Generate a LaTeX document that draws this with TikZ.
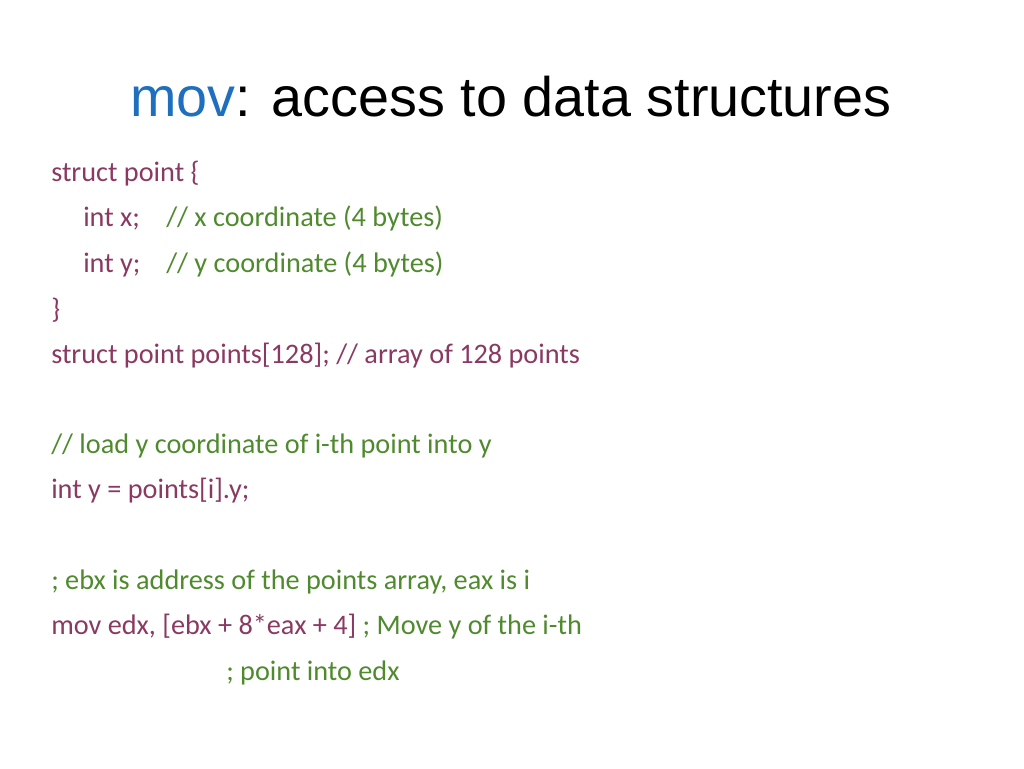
\documentclass[tikz,border=0pt]{standalone}
\usepackage{fontspec}
\setmainfont{Carlito}
\newfontfamily\titlefont{Liberation Sans}
\definecolor{codecol}{HTML}{8A3A62}
\definecolor{commcol}{HTML}{4F8A2E}
\definecolor{movblue}{HTML}{1F6FBF}
\begin{document}
\begin{tikzpicture}[x=0.75pt,y=-0.75pt,
	line/.style={anchor=base west, inner sep=0pt, font=\fontsize{21.2}{24}\selectfont},
	code/.style={line, text=codecol},
	comm/.style={line, text=commcol}
]
\useasboundingbox (0,0) rectangle (1024,768);
\node[anchor=base, inner sep=0pt, font=\titlefont\fontsize{41.8}{46}\selectfont] (title) at (511,116)
	{\textcolor{movblue}{mov}: access to data structures};
\node[code] (l1) at (51,181) {struct point \{};
\node[code] (l2) at (83,226) {int x;};
\node[comm] (c2) at (166,226) {// x coordinate (4 bytes)};
\node[code] (l3) at (83,272) {int y;};
\node[comm] (c3) at (166,272) {// y coordinate (4 bytes)};
\node[code] (l4) at (51,318) {\}};
\node[code] (l5) at (51,363) {struct point points[128]; // array of 128 points};
\node[comm] (l6) at (51,453) {// load y coordinate of i-th point into y};
\node[code] (l7) at (51,498) {int y = points[i].y;};
\node[comm] (l8) at (51,589) {; ebx is address of the points array, eax is i};
\node[code] (l9) at (51,634) {mov edx, [ebx + 8*eax + 4] \textcolor{commcol}{; Move y of the i-th}};
\node[comm] (l10) at (226,680) {; point into edx};
\end{tikzpicture}
\end{document}
